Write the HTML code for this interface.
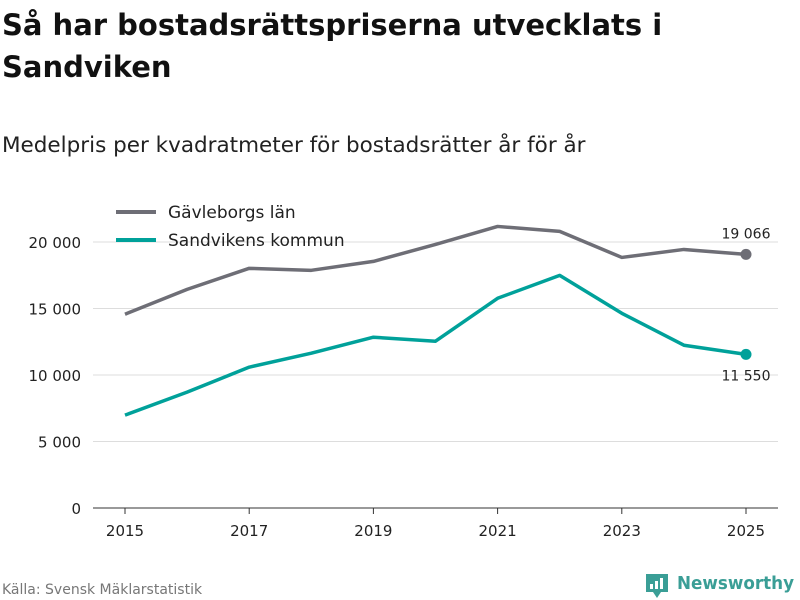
<!DOCTYPE html>
<html><head><meta charset="utf-8">
<style>
html,body{margin:0;padding:0;background:#fff;width:800px;height:600px;overflow:hidden;font-family:"DejaVu Sans","Liberation Sans",sans-serif;}
</style></head>
<body>
<svg id="chart" width="800" height="600" xmlns="http://www.w3.org/2000/svg" font-family="DejaVu Sans, Liberation Sans, sans-serif">
<text x="2" y="35" font-size="29" font-weight="bold" fill="#111">Så har bostadsrättspriserna utvecklats i</text>
<text x="2" y="77" font-size="29" font-weight="bold" fill="#111">Sandviken</text>
<text x="2" y="152" font-size="21.5" fill="#222">Medelpris per kvadratmeter för bostadsrätter år för år</text>
<g id="grid"></g>
<g id="series"></g>
<g>
<line x1="116" y1="212" x2="156" y2="212" stroke="#6e6e76" stroke-width="4"/>
<text x="168" y="218" font-size="17" fill="#222">Gävleborgs län</text>
<line x1="116" y1="240" x2="156" y2="240" stroke="#00a19a" stroke-width="4"/>
<text x="168" y="246" font-size="17" fill="#222">Sandvikens kommun</text>
</g>
<text x="2" y="594" font-size="14" fill="#777">Källa: Svensk Mäklarstatistik</text>
<g>
<path d="M646 574 h22 v18 h-7 l-4 6 l-4 -6 h-7 z" fill="#3a9e96"/>
<rect x="650" y="584" width="3" height="5" fill="#fff"/><rect x="655" y="581" width="3" height="8" fill="#fff"/><rect x="660" y="578" width="3" height="11" fill="#fff"/>
<text x="677" y="589" font-size="18" font-weight="bold" fill="#3a9e96" textLength="117" lengthAdjust="spacingAndGlyphs">Newsworthy</text>
</g>
</svg>
<script>
const years=[2015,2016,2017,2018,2019,2020,2021,2022,2023,2024,2025];
const gavleborg=[14570,16440,18020,17870,18540,19820,21170,20800,18840,19440,19066];
const sandviken=[6980,8710,10590,11640,12840,12540,15770,17490,14640,12240,11550];
const yTicks=[0,5000,10000,15000,20000];
const yTickLabels=["0","5 000","10 000","15 000","20 000"];
const xTicks=[2015,2017,2019,2021,2023,2025];
const NS="http://www.w3.org/2000/svg";
const x=v=>125+(v-2015)*(746-125)/10;
const y=v=>508-v*(508-242)/20000;
function mk(tag,attrs,parent){const e=document.createElementNS(NS,tag);for(const k in attrs)e.setAttribute(k,attrs[k]);parent.appendChild(e);return e;}
const grid=document.getElementById('grid');
yTicks.forEach((t,i)=>{
 const l=mk('line',{x1:93,x2:778,y1:y(t),y2:y(t),stroke:t===0?'#333':'#ddd','stroke-width':1},grid);
 
 
 const tx=mk('text',{x:81,y:y(t)+6,'text-anchor':'end','font-size':15,fill:'#222'},grid);
 tx.textContent=yTickLabels[i];
 
 
});
xTicks.forEach(t=>{
 const l=mk('line',{x1:x(t),x2:x(t),y1:508,y2:514,stroke:'#333'},grid);
 
 
 const tx=mk('text',{x:x(t),y:536,'text-anchor':'middle','font-size':15,fill:'#222'},grid);
 tx.textContent=t;
 
 
});
const ser=document.getElementById('series');
function draw(vals,color,name,labelDy){
 const p=mk('polyline',{points:vals.map((v,i)=>x(years[i])+','+y(v)).join(' '),fill:'none',stroke:color,'stroke-width':3.5,'stroke-linejoin':'round'},ser);
 
 
 const n=vals.length-1;
 const c=mk('circle',{cx:x(years[n]),cy:y(vals[n]),r:5.5,fill:color},ser);
 
 
 const t=mk('text',{x:x(years[n]),y:y(vals[n])+labelDy,'text-anchor':'middle','font-size':14,fill:'#222'},ser);
 t.textContent=vals[n].toLocaleString('sv-SE').replace(/\s/g,' ');
 
 
}
draw(gavleborg,'#6e6e76','gavleborg',-16);
draw(sandviken,'#00a19a','sandviken',26);
</script>
</body></html>
